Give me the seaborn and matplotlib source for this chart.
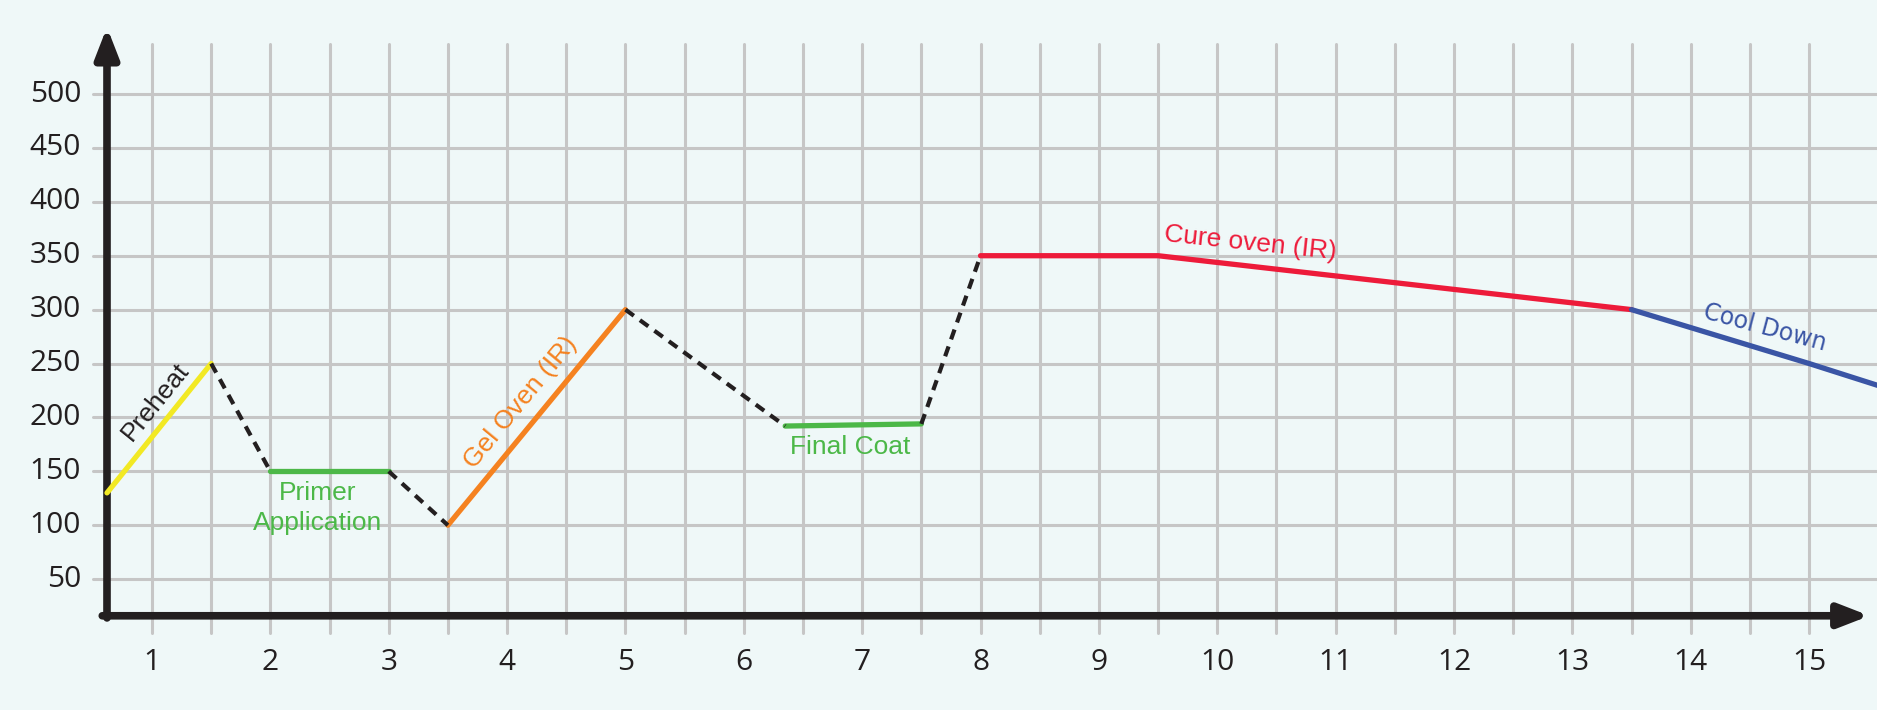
import numpy as np
import pandas as pd
import matplotlib
matplotlib.use("Agg")
import matplotlib.pyplot as plt
import seaborn as sns

# process stages: x = position along the line, y = temperature
preheat_x = [0.62, 1.5]
preheat_y = [130, 250]
primer_x = [2.0, 3.0]
primer_y = [150, 150]
gel_x = [3.5, 5.0]
gel_y = [100, 300]
final_x = [6.35, 7.5]
final_y = [192, 194]
cure_x = [8.0, 9.5, 13.5]
cure_y = [350, 350, 300]
cool_x = [13.5, 15.0, 15.6]
cool_y = [300, 250, 229]

# transfers between stages (dashed)
transfer_x = [[1.5, 2.0], [3.0, 3.5], [5.0, 6.35], [7.5, 8.0]]
transfer_y = [[250, 150], [150, 100], [300, 192], [194, 350]]

x_ticks = list(range(1, 16))
y_ticks = list(range(50, 501, 50))

bg = "#eff8f8"
sns.set_style("white")
plt.rcParams["font.family"] = ["Liberation Sans", "DejaVu Sans"]

fig = plt.figure(figsize=(18.77, 7.10), dpi=100, facecolor=bg)
ax = fig.add_axes([0, 0, 1, 1])
ax.set_facecolor(bg)
ax.set_xlim(-0.284, 15.574)
ax.set_ylim(-71.4, 587.2)
ax.axis("off")

# grid
grid_c = "#c6c6c6"
for gx in np.arange(1, 15.01, 0.5):
    ax.plot([gx, gx], [0, 546], color=grid_c, lw=2.2, zorder=1)
for gy in y_ticks:
    ax.plot([0.5, 15.574], [gy, gy], color=grid_c, lw=2.2, zorder=1)

# axes with arrows
arrow = dict(arrowstyle="-|>,head_length=1.8,head_width=0.7",
             lw=5.5, color="#231f20", shrinkA=0, shrinkB=0)
ax.annotate("", xy=(0.62, 562), xytext=(0.62, 14), arrowprops=arrow, zorder=3)
ax.annotate("", xy=(15.51, 16), xytext=(0.58, 16), arrowprops=arrow, zorder=3)

# stage lines
segs = [(preheat_x, preheat_y, "#f2e924"),
        (primer_x, primer_y, "#4cb848"),
        (gel_x, gel_y, "#f58220"),
        (final_x, final_y, "#4cb848"),
        (cure_x, cure_y, "#ed1b3a"),
        (cool_x, cool_y, "#3a55a5")]
for sx, sy, c in segs:
    sns.lineplot(x=sx, y=sy, ax=ax, color=c, lw=3.8, sort=False, zorder=4)

for tx, ty in zip(transfer_x, transfer_y):
    sns.lineplot(x=tx, y=ty, ax=ax, color="#231f20", lw=3, sort=False,
                 linestyle=(0, (2.5, 1.8)), zorder=4)

# tick labels
for t in x_ticks:
    ax.text(t, -27, str(t), ha="center", va="center", fontsize=21.5,
            family=["Open Sans", "DejaVu Sans"], color="#231f20")
for t in y_ticks:
    ax.text(0.40, t, str(t), ha="right", va="center", fontsize=21.5,
            family=["Open Sans", "DejaVu Sans"], color="#231f20")

# stage labels
ax.text(1.03, 215, "Preheat", rotation=51, ha="center", va="center",
        fontsize=19, color="#231f20")
ax.text(2.40, 116, "Primer\nApplication", ha="center", va="center",
        fontsize=19, color="#4cb848", linespacing=1.3)
ax.text(4.11, 214, "Gel Oven (IR)", rotation=50.5, ha="center", va="center",
        fontsize=19, color="#f58220")
ax.text(6.90, 173, "Final Coat", ha="center", va="center",
        fontsize=19, color="#4cb848")
ax.text(10.28, 362, "Cure oven (IR)", rotation=-6, ha="center", va="center",
        fontsize=19, color="#ed1b3a")
ax.text(14.63, 283, "Cool Down", rotation=-15, ha="center", va="center",
        fontsize=17, color="#3a55a5", family=["DejaVu Sans"])

fig.savefig("out.png", dpi=100, facecolor=bg)
